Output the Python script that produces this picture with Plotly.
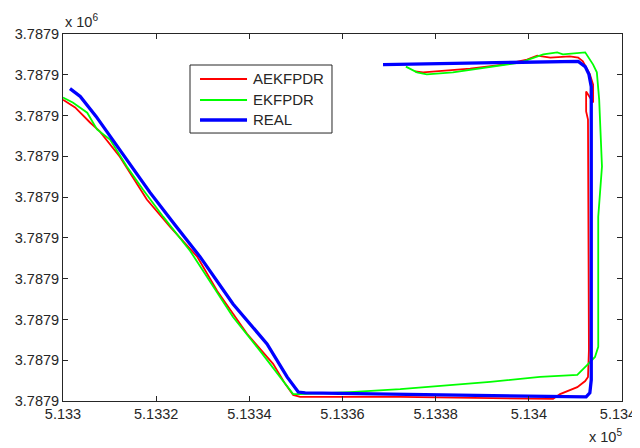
import plotly.graph_objects as go

# REAL trajectory (metres, UTM-like)
real_x = [513301.5, 513303.7, 513307.1, 513312.2, 513318.7, 513323.8, 513329.4, 513336.5,
          513343.8, 513348.1, 513350.5, 513352.0, 513370.2, 513385.2, 513402.4, 513412.3,
          513413.1, 513413.4, 513413.4, 513413.4, 513412.9, 513412.1, 513410.6, 513391.2,
          513376.2, 513368.7]
real_y = [3787926.6, 3787924.7, 3787919.8, 3787911.6, 3787901.1, 3787893.5, 3787885.4, 3787873.8,
          3787864.0, 3787855.9, 3787852.2, 3787852.0, 3787851.7, 3787851.4, 3787851.0, 3787851.0,
          3787852.0, 3787855.2, 3787899.4, 3787927.1, 3787930.1, 3787932.0, 3787933.3, 3787933.0,
          3787932.8, 3787932.5]

# AEKFPDR estimate
aekf_x = [513300.0, 513302.6, 513305.8, 513307.9, 513312.2, 513318.0, 513323.0, 513328.8,
          513333.1, 513339.5, 513345.1, 513347.7, 513349.4, 513350.9, 513372.4, 513387.4,
          513405.2, 513406.7, 513410.4, 513412.1, 513412.7, 513412.9, 513412.7, 513412.7,
          513412.3, 513412.3, 513413.8, 513413.8, 513413.1, 513411.6, 513410.6, 513408.8,
          513404.6, 513401.8, 513399.6, 513394.5, 513387.4, 513380.3, 513377.3, 513375.6]
aekf_y = [3787923.9, 3787922.0, 3787918.3, 3787916.1, 3787909.9, 3787899.4, 3787892.7, 3787885.4,
          3787877.0, 3787866.5, 3787859.1, 3787854.2, 3787851.5, 3787851.0, 3787851.0, 3787850.7,
          3787850.5, 3787851.7, 3787853.4, 3787854.9, 3787855.9, 3787862.5, 3787896.9, 3787919.0,
          3787921.0, 3787925.9, 3787923.2, 3787927.6, 3787930.1, 3787933.3, 3787934.2, 3787934.5,
          3787934.2, 3787934.7, 3787933.7, 3787932.5, 3787931.5, 3787930.8, 3787930.6, 3787930.8]

# EKFPDR estimate
ekf_x = [513300.0, 513302.1, 513305.2, 513307.3, 513310.1, 513313.7, 513317.2, 513321.5,
         513327.3, 513330.9, 513336.5, 513342.3, 513346.6, 513349.4, 513350.9, 513361.6,
         513372.4, 513380.9, 513391.7, 513402.4, 513410.4, 513412.5, 513414.2, 513414.9,
         513414.9, 513415.7, 513415.3, 513415.1, 513414.6, 513413.8, 513412.1, 513407.3,
         513406.1, 513403.1, 513398.1, 513391.0, 513383.7, 513378.1, 513376.0, 513373.6]
ekf_y = [3787924.4, 3787923.2, 3787920.7, 3787916.6, 3787914.1, 3787907.5, 3787901.8, 3787895.2,
         3787886.8, 3787880.5, 3787870.6, 3787862.3, 3787855.9, 3787851.7, 3787851.7, 3787852.2,
         3787852.9, 3787853.7, 3787854.7, 3787855.9, 3787856.4, 3787858.8, 3787860.8, 3787863.3,
         3787895.2, 3787907.5, 3787919.0, 3787923.9, 3787930.6, 3787932.5, 3787935.5, 3787935.0,
         3787935.5, 3787935.0, 3787933.0, 3787931.8, 3787930.6, 3787930.1, 3787930.6, 3787932.0]

x_ticks = [513300, 513320, 513340, 513360, 513380, 513400, 513420]
x_tick_labels = ["5.133", "5.1332", "5.1334", "5.1336", "5.1338", "5.134", "5.1342"]
y_ticks = [3787850, 3787860, 3787870, 3787880, 3787890, 3787900, 3787910, 3787920, 3787930, 3787940]
y_tick_labels = ["3.7879"] * len(y_ticks)

series_names = ["AEKFPDR", "EKFPDR", "REAL"]
series_colors = ["#ff0000", "#00ff00", "#0000ff"]
series_widths = [1.8, 1.8, 3.3]
series_x = [aekf_x, ekf_x, real_x]
series_y = [aekf_y, ekf_y, real_y]

FONT = "Arial, Liberation Sans, sans-serif"
AX = "#262626"

fig = go.Figure()
for nm, col, w, xs, ys in zip(series_names, series_colors, series_widths, series_x, series_y):
    fig.add_trace(go.Scatter(x=xs, y=ys, mode="lines", name=nm, showlegend=False,
                             line=dict(color=col, width=w)))

axis_common = dict(showgrid=False, zeroline=False, showline=True, linecolor=AX, linewidth=1,
                   mirror="ticks", ticks="inside", ticklen=5, tickcolor=AX,
                   ticklabeloverflow="allow", automargin=False,
                   tickfont=dict(family=FONT, size=14.5, color=AX))
fig.update_xaxes(range=[513300, 513420], tickvals=x_ticks, ticktext=x_tick_labels, **axis_common)
fig.update_yaxes(range=[3787850, 3787940], tickvals=y_ticks, ticktext=y_tick_labels, **axis_common)

# MATLAB-style legend box drawn in paper coordinates
leg_x0, leg_x1, leg_y0, leg_y1 = 0.2272, 0.4812, 0.7302, 0.9155
line_x0, line_x1, text_x = 0.2451, 0.3292, 0.3363
row_y = [0.8774, 0.8202, 0.7657]
shapes = [dict(type="rect", xref="paper", yref="paper", x0=leg_x0, x1=leg_x1, y0=leg_y0, y1=leg_y1,
               line=dict(color=AX, width=1), fillcolor="white", layer="above")]
annotations = []
for nm, col, w, ry in zip(series_names, series_colors, series_widths, row_y):
    shapes.append(dict(type="line", xref="paper", yref="paper", x0=line_x0, x1=line_x1, y0=ry, y1=ry,
                       line=dict(color=col, width=w), layer="above"))
    annotations.append(dict(text=nm, xref="paper", yref="paper", x=text_x, y=ry,
                            xanchor="left", yanchor="middle", showarrow=False,
                            font=dict(family=FONT, size=15, color=AX)))

annotations += [
    dict(text="x 10<sup>6</sup>", xref="paper", yref="paper", x=0, y=1,
         xanchor="left", yanchor="bottom", yshift=2, showarrow=False,
         font=dict(family=FONT, size=14.5, color=AX)),
    dict(text="x 10<sup>5</sup>", xref="paper", yref="paper", x=0.937, y=0,
         xanchor="left", yanchor="top", yshift=-24, showarrow=False,
         font=dict(family=FONT, size=14.5, color=AX)),
]

# the page places the figure 8px from the top-left corner of the window
fig.update_layout(
    width=632, height=440,
    margin=dict(l=55, r=18, t=26, b=47),
    paper_bgcolor="white", plot_bgcolor="white",
    font=dict(family=FONT, color=AX),
    shapes=shapes, annotations=annotations,
)

fig.write_html("out.html")
